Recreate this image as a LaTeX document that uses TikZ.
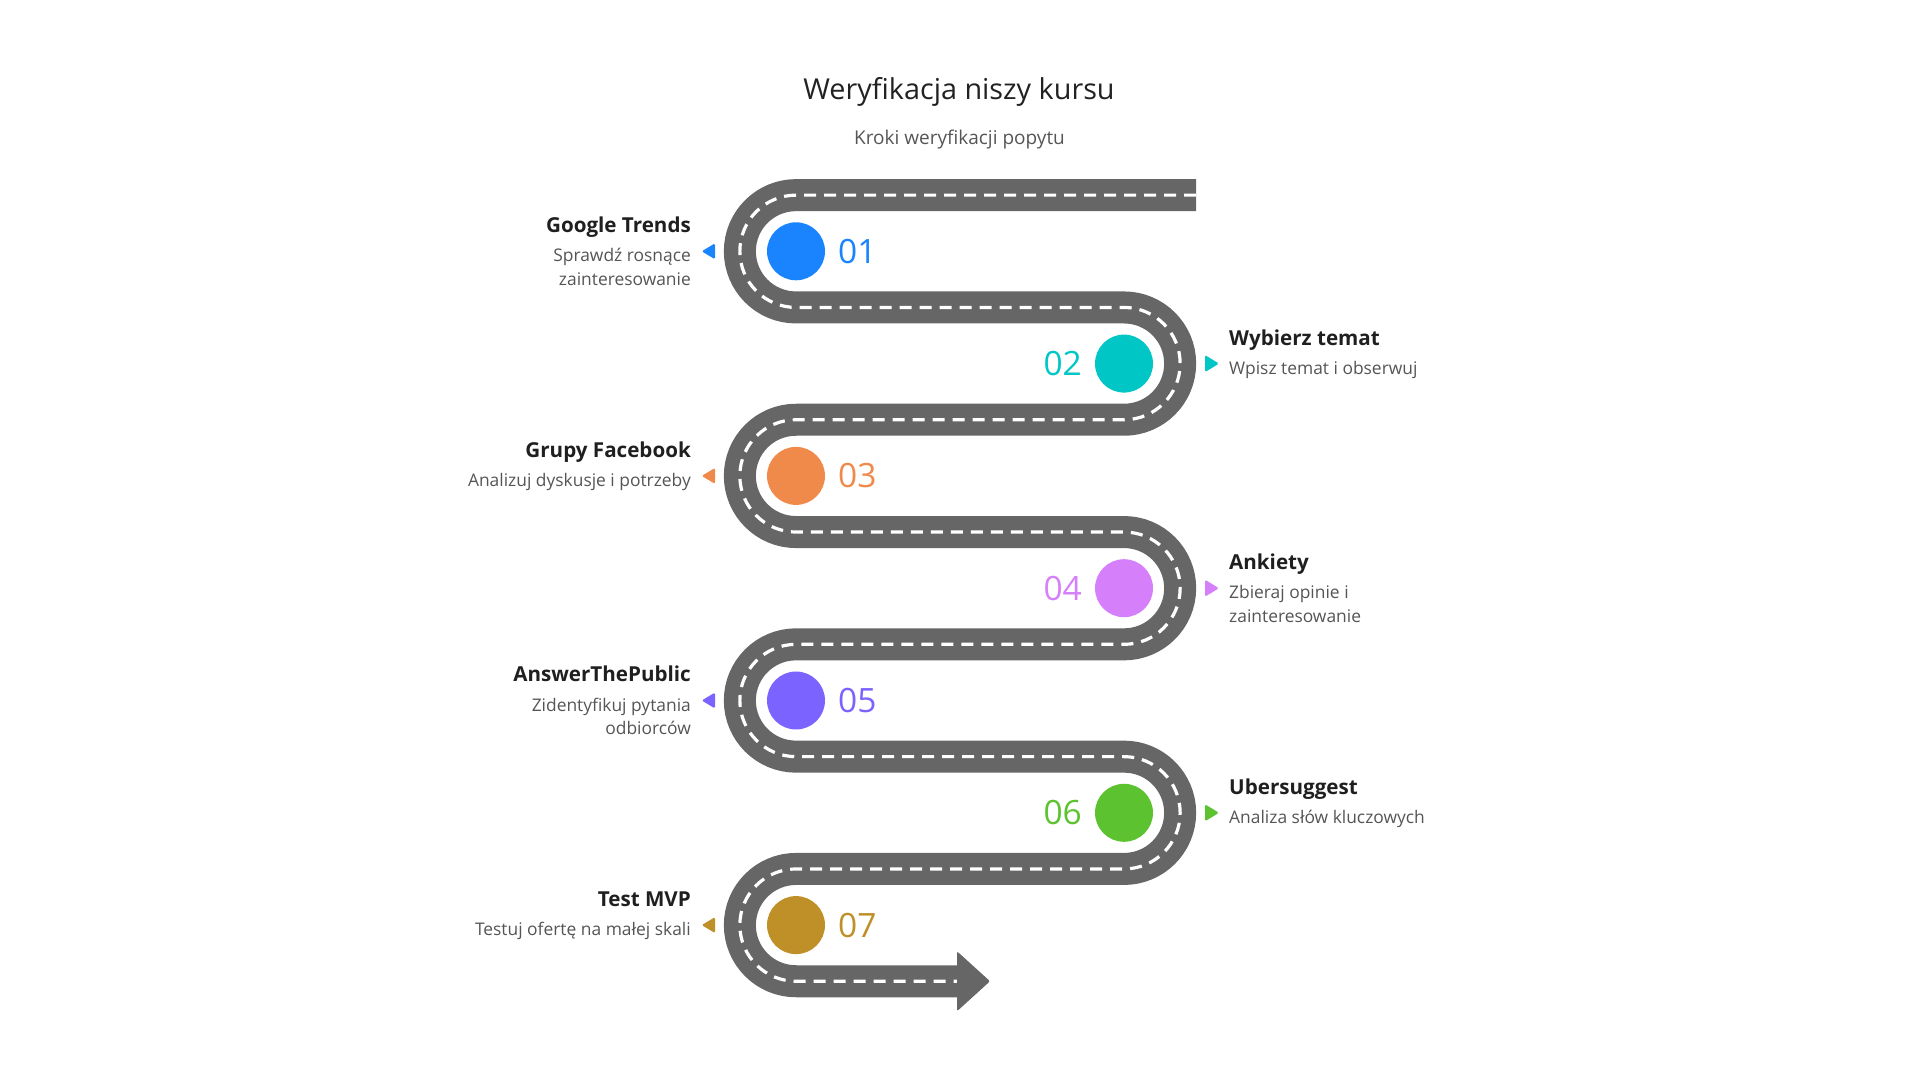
\documentclass[tikz,border=0pt]{standalone}
\usepackage{fontspec}
\setmainfont{Open Sans}
\definecolor{roadgray}{HTML}{666666}
\definecolor{titlec}{HTML}{222222}
\definecolor{headc}{HTML}{1F1F1F}
\definecolor{descc}{HTML}{555555}
\definecolor{cA}{HTML}{1A84FF}
\definecolor{cB}{HTML}{00C6C6}
\definecolor{cC}{HTML}{F08A4B}
\definecolor{cD}{HTML}{D580FA}
\definecolor{cE}{HTML}{7A63FF}
\definecolor{cF}{HTML}{5DC22F}
\definecolor{cG}{HTML}{BF8F28}
\begin{document}
\begin{tikzpicture}[x=1pt,y=1pt,
  road/.style={line width=32pt, draw=roadgray, line join=round},
  lane/.style={draw=white, line width=3.2pt, dash pattern=on 12pt off 8pt},
  dot/.style={circle, minimum size=58pt, inner sep=0pt, fill=#1},
  num/.style={font=\fontsize{33.5}{33.5}\selectfont, text=#1, inner sep=0pt},
  headtxt/.style={font=\bfseries\fontsize{20.6}{24}\selectfont, text=headc, inner sep=0pt},
  desctxt/.style={font=\fontsize{17.4}{20}\selectfont, text=descc, inner sep=0pt},
  marker/.style={fill=#1, rounded corners=1.5pt}
]
\useasboundingbox (0,0) rectangle (1920,1080);

% title
\node[font=\fontsize{28.8}{32}\selectfont, text=titlec, anchor=base, inner sep=0pt] (title) at (959,980.7) {Weryfikacja niszy kursu};
\node[font=\fontsize{19}{22}\selectfont, text=descc, anchor=base, inner sep=0pt] (subtitle) at (959.5,935) {Kroki weryfikacji popytu};

% road
\def\R{56.15}
\draw[road, postaction={lane}] (1196,884.85) -- ++(-400,0)
  arc[start angle=90,end angle=270,radius=\R] -- ++(328,0)
  arc[start angle=90,end angle=-90,radius=\R] -- ++(-328,0)
  arc[start angle=90,end angle=270,radius=\R] -- ++(328,0)
  arc[start angle=90,end angle=-90,radius=\R] -- ++(-328,0)
  arc[start angle=90,end angle=270,radius=\R] -- ++(328,0)
  arc[start angle=90,end angle=-90,radius=\R] -- ++(-328,0)
  arc[start angle=90,end angle=270,radius=\R] -- ++(162,0);
\fill[roadgray, rounded corners=2pt] (957,128.75) -- (990,98.75) -- (957,68.75) -- cycle;

% row 1
\node[dot=cA] (c1) at (796,828.7) {};
\node[num=cA, anchor=west] (n1) at (838,828.7) {01};
\fill[marker=cA] (715,836.7) -- (701.7,828.7) -- (715,820.7) -- cycle;
\node[headtxt, anchor=base east] (h1) at (691,847.2) {Google Trends};
\node[desctxt, anchor=base east] (d1a) at (691,818) {Sprawdź rosnące};
\node[desctxt, anchor=base east] (d1b) at (691,794.5) {zainteresowanie};

% row 2
\node[dot=cB] (c2) at (1124,716.4) {};
\node[num=cB, anchor=east] (n2) at (1082,716.4) {02};
\fill[marker=cB] (1205,724.9) -- (1219,716.4) -- (1205,707.9) -- cycle;
\node[headtxt, anchor=base west] (h2) at (1229,734.9) {Wybierz temat};
\node[desctxt, anchor=base west] (d2a) at (1229,705.7) {Wpisz temat i obserwuj};

% row 3
\node[dot=cC] (c3) at (796,604.1) {};
\node[num=cC, anchor=west] (n3) at (838,604.1) {03};
\fill[marker=cC] (715,612.1) -- (701.7,604.1) -- (715,596.1) -- cycle;
\node[headtxt, anchor=base east] (h3) at (691,622.6) {Grupy Facebook};
\node[desctxt, anchor=base east] (d3a) at (691,593.4) {Analizuj dyskusje i potrzeby};

% row 4
\node[dot=cD] (c4) at (1124,491.8) {};
\node[num=cD, anchor=east] (n4) at (1082,491.8) {04};
\fill[marker=cD] (1205,500.3) -- (1219,491.8) -- (1205,483.3) -- cycle;
\node[headtxt, anchor=base west] (h4) at (1229,510.3) {Ankiety};
\node[desctxt, anchor=base west] (d4a) at (1229,481.1) {Zbieraj opinie i};
\node[desctxt, anchor=base west] (d4b) at (1229,457.6) {zainteresowanie};

% row 5
\node[dot=cE] (c5) at (796,379.5) {};
\node[num=cE, anchor=west] (n5) at (838,379.5) {05};
\fill[marker=cE] (715,387.5) -- (701.7,379.5) -- (715,371.5) -- cycle;
\node[headtxt, anchor=base east] (h5) at (691,398) {AnswerThePublic};
\node[desctxt, anchor=base east] (d5a) at (691,368.8) {Zidentyfikuj pytania};
\node[desctxt, anchor=base east] (d5b) at (691,345.3) {odbiorców};

% row 6
\node[dot=cF] (c6) at (1124,267.2) {};
\node[num=cF, anchor=east] (n6) at (1082,267.2) {06};
\fill[marker=cF] (1205,275.7) -- (1219,267.2) -- (1205,258.7) -- cycle;
\node[headtxt, anchor=base west] (h6) at (1229,285.7) {Ubersuggest};
\node[desctxt, anchor=base west] (d6a) at (1229,256.5) {Analiza słów kluczowych};

% row 7
\node[dot=cG] (c7) at (796,154.9) {};
\node[num=cG, anchor=west] (n7) at (838,154.9) {07};
\fill[marker=cG] (715,162.9) -- (701.7,154.9) -- (715,146.9) -- cycle;
\node[headtxt, anchor=base east] (h7) at (691,173.4) {Test MVP};
\node[desctxt, anchor=base east] (d7a) at (691,144.2) {Testuj ofertę na małej skali};
\end{tikzpicture}
\end{document}
